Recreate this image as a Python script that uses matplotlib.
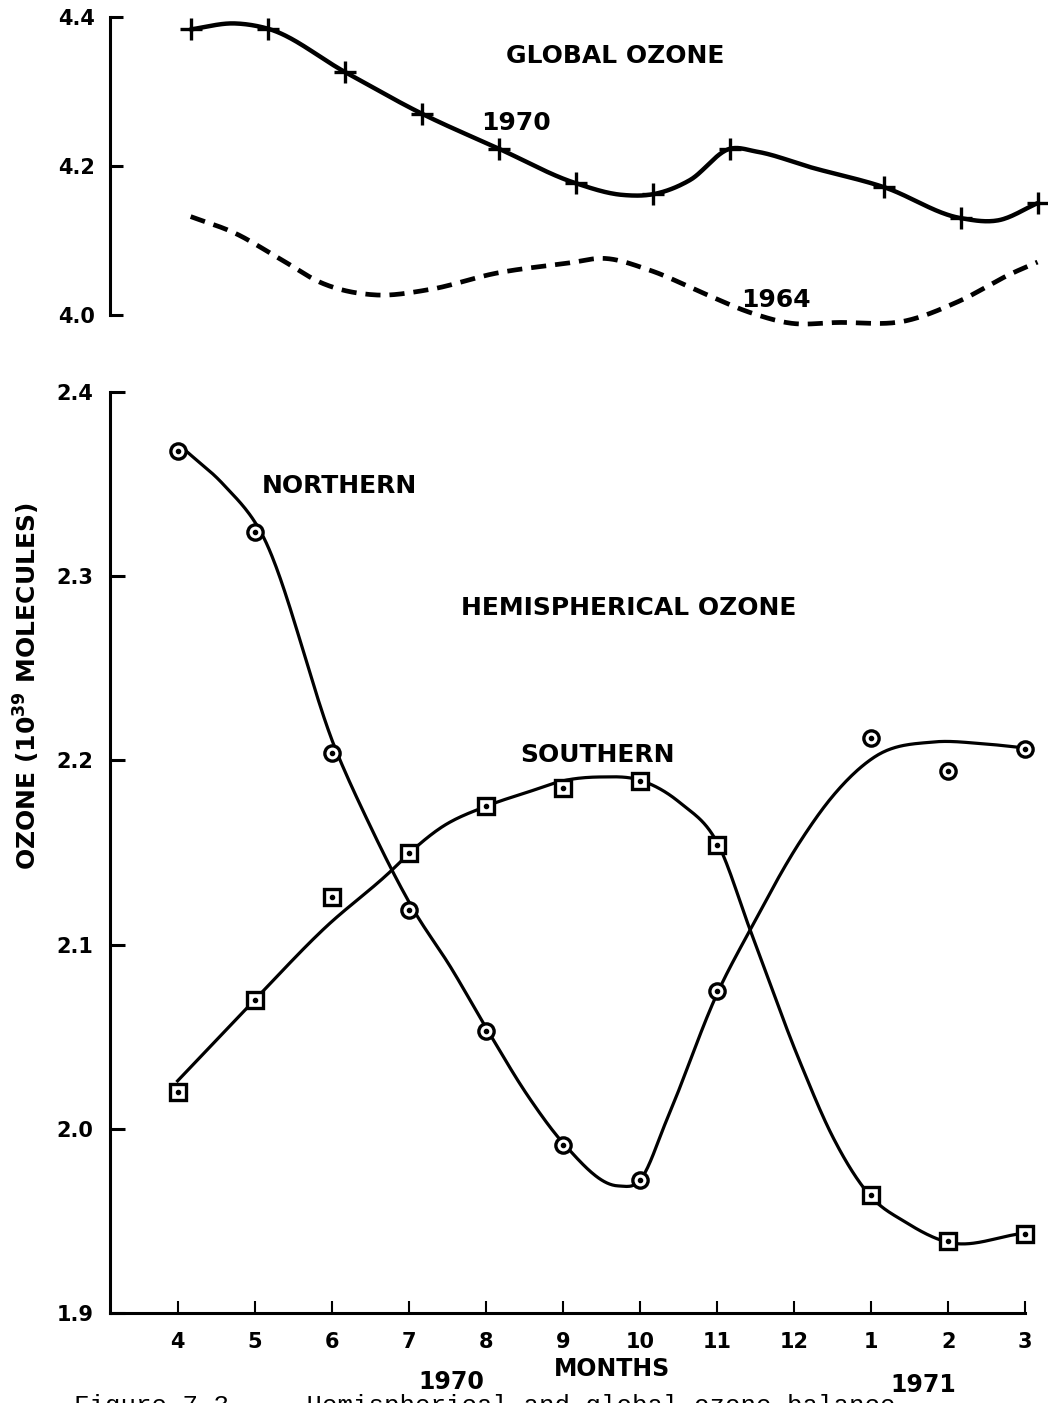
import numpy as np
import matplotlib
matplotlib.use("Agg")
import matplotlib.pyplot as plt

# months on a running scale: 4..12 = Apr..Dec 1970, 13..15 = Jan..Mar 1971
tick_months = [4, 5, 6, 7, 8, 9, 10, 11, 12, 13, 14, 15]
tick_labels = ['4', '5', '6', '7', '8', '9', '10', '11', '12', '1', '2', '3']

# observed points (no December value)
months = [4, 5, 6, 7, 8, 9, 10, 11, 13, 14, 15]
northern = [2.368, 2.324, 2.204, 2.119, 2.053, 1.991, 1.972, 2.075, 2.212, 2.194, 2.206]
southern = [2.020, 2.070, 2.126, 2.150, 2.175, 2.185, 2.189, 2.154, 1.964, 1.939, 1.943]
global_1970 = [4.383, 4.384, 4.326, 4.270, 4.223, 4.177, 4.162, 4.223, 4.171, 4.130, 4.150]

# hand drawn fitted curves
north_curve_x = [4.11, 4.59, 5.08, 6.07, 6.47, 7.06, 7.54, 8.03, 8.56, 9.03, 9.72,
                 10.0, 10.35, 11.02, 11.43, 12.08, 12.51, 13.05, 13.81, 14.46, 15.05]
north_curve_y = [2.368, 2.350, 2.324, 2.204, 2.167, 2.119, 2.088, 2.053, 2.017, 1.991, 1.969,
                 1.972, 2.005, 2.075, 2.108, 2.156, 2.181, 2.202, 2.210, 2.209, 2.2065]

south_curve_x = [4.0, 5.0, 5.91, 6.77, 7.03, 7.40, 8.03, 8.56, 9.01, 9.48, 10.02, 10.52,
                 11.02, 11.43, 12.08, 12.51, 12.97, 13.46, 13.97, 14.97]
south_curve_y = [2.026, 2.070, 2.109, 2.140, 2.1505, 2.163, 2.1755, 2.183, 2.189, 2.191, 2.189, 2.177,
                 2.154, 2.108, 2.036, 1.995, 1.9645, 1.949, 1.9387, 1.9432]

g1970_curve_x = [4.0, 4.57, 5.0, 6.0, 7.0, 8.0, 8.99, 9.61, 10.0, 10.48, 11.0, 11.35, 12.05,
                 13.01, 13.99, 14.48, 14.99]
g1970_curve_y = [4.383, 4.391, 4.384, 4.326, 4.270, 4.223, 4.177, 4.161, 4.162, 4.181, 4.223, 4.219,
                 4.198, 4.171, 4.130, 4.127, 4.150]

g1964_curve_x = [4.0, 4.57, 5.18, 5.70, 6.39, 7.09, 7.96, 8.92, 9.35, 9.96, 10.66, 11.27,
                 11.79, 12.40, 13.27, 13.96, 14.66, 14.99]
g1964_curve_y = [4.132, 4.110, 4.074, 4.043, 4.027, 4.034, 4.056, 4.070, 4.076, 4.060, 4.029, 4.003,
                 3.989, 3.990, 3.992, 4.018, 4.056, 4.071]


def smooth(xk, yk, n=600):
    # cubic hermite through the knots, slopes from neighbouring chords (bessel)
    xk = np.asarray(xk, float)
    yk = np.asarray(yk, float)
    h = np.diff(xk)
    d = np.diff(yk) / h
    m = np.zeros_like(yk)
    m[1:-1] = (h[1:] * d[:-1] + h[:-1] * d[1:]) / (h[:-1] + h[1:])
    m[0] = d[0]
    m[-1] = d[-1]
    xs = np.linspace(xk[0], xk[-1], n)
    j = np.clip(np.searchsorted(xk, xs) - 1, 0, len(xk) - 2)
    t = (xs - xk[j]) / h[j]
    h00 = 2 * t ** 3 - 3 * t ** 2 + 1
    h10 = t ** 3 - 2 * t ** 2 + t
    h01 = -2 * t ** 3 + 3 * t ** 2
    h11 = t ** 3 - t ** 2
    ys = h00 * yk[j] + h10 * h[j] * m[j] + h01 * yk[j + 1] + h11 * h[j] * m[j + 1]
    return xs, ys


W, H = 1048, 1403
fig = plt.figure(figsize=(W / 100, H / 100), dpi=100)
bold = dict(fontweight='bold', family='DejaVu Sans', color='black')

left = 110 / W
width = (1025.2 - 110) / W
xlim = (3.123, 15.0)
top_shift = 0.17   # top panel was drawn slightly to the right

# ---- top panel: global ozone
ax1 = fig.add_axes([left, 1 - 337.4 / H, width, 335.6 / H])
ax1.set_xlim(*xlim)
ax1.set_ylim(3.97, 4.42)
for s in ['top', 'right', 'bottom']:
    ax1.spines[s].set_visible(False)
ax1.spines['left'].set_bounds(4.0, 4.4)
ax1.spines['left'].set_linewidth(2.2)
ax1.set_xticks([])
ax1.set_yticks([4.0, 4.2, 4.4])
ax1.set_yticklabels(['4.0', '4.2', '4.4'], **bold, fontsize=15)
ax1.tick_params(axis='y', direction='in', length=9, width=2.2, pad=11)

xs, ys = smooth(np.array(g1970_curve_x) + top_shift, g1970_curve_y)
ax1.plot(xs, ys, color='black', lw=3.2, solid_capstyle='round', clip_on=False)
ax1.plot(np.array(months) + top_shift, global_1970, ls='none', marker='+', ms=16, mew=2.4,
         color='black', clip_on=False)
xs, ys = smooth(np.array(g1964_curve_x) + top_shift, g1964_curve_y)
ax1.plot(xs, ys, color='black', lw=3.4, dashes=(3.2, 1.9), clip_on=False)

ax1.text(9.68, 4.347, 'GLOBAL OZONE', ha='center', va='center', fontsize=18, **bold)
ax1.text(8.39, 4.258, '1970', ha='center', va='center', fontsize=18, **bold)
ax1.text(11.77, 4.020, '1964', ha='center', va='center', fontsize=18, **bold)

# ---- bottom panel: hemispherical ozone
ax2 = fig.add_axes([left, 1 - 1313 / H, width, (1313 - 392) / H])
ax2.set_xlim(*xlim)
ax2.set_ylim(1.9, 2.4)
for s in ['top', 'right']:
    ax2.spines[s].set_visible(False)
ax2.spines['left'].set_linewidth(2.2)
ax2.spines['bottom'].set_linewidth(2.2)
ax2.set_yticks([1.9, 2.0, 2.1, 2.2, 2.3, 2.4])
ax2.set_yticklabels(['1.9', '2.0', '2.1', '2.2', '2.3', '2.4'], **bold, fontsize=15)
ax2.set_xticks(tick_months)
ax2.set_xticklabels(tick_labels, **bold, fontsize=15)
ax2.tick_params(axis='y', direction='in', length=11, width=2.2, pad=12)
ax2.tick_params(axis='x', direction='in', length=9, width=1.5, pad=14)

xs, ys = smooth(north_curve_x, north_curve_y)
ax2.plot(xs, ys, color='black', lw=2.3, clip_on=False)
xs, ys = smooth(south_curve_x, south_curve_y)
ax2.plot(xs, ys, color='black', lw=2.3, clip_on=False)

ax2.plot(months, northern, ls='none', marker='o', ms=11, mew=2.4, mfc='white', mec='black',
         clip_on=False, zorder=4)
ax2.plot(months, southern, ls='none', marker='s', ms=12, mew=2.4, mfc='white', mec='black',
         clip_on=False, zorder=4)
ax2.plot(months + months, northern + southern, ls='none', marker='o', ms=3, color='black',
         clip_on=False, zorder=5)

ax2.text(6.095, 2.349, 'NORTHERN', ha='center', va='center', fontsize=18, **bold)
ax2.text(9.86, 2.283, 'HEMISPHERICAL OZONE', ha='center', va='center', fontsize=18, **bold)
ax2.text(9.45, 2.203, 'SOUTHERN', ha='center', va='center', fontsize=18, **bold)

# axis titles and caption
fig.text(27 / W, 1 - 686 / H, r'OZONE (10$^{\mathbf{39}}$ MOLECULES)', rotation=90,
         ha='center', va='center', fontsize=18, **bold)
fig.text(612 / W, 1 - 1369 / H, 'MONTHS', ha='center', va='center', fontsize=17, **bold)
fig.text(451 / W, 1 - 1382 / H, '1970', ha='center', va='center', fontsize=17, **bold)
fig.text(923 / W, 1 - 1385 / H, '1971', ha='center', va='center', fontsize=17, **bold)
fig.text(74 / W, 1 - 1413 / H, 'Figure 7.3.  - Hemispherical and global ozone balance',
         ha='left', va='baseline', fontsize=18.5, family='Liberation Mono', color='black')

fig.savefig('out.png', dpi=100, facecolor='white')
